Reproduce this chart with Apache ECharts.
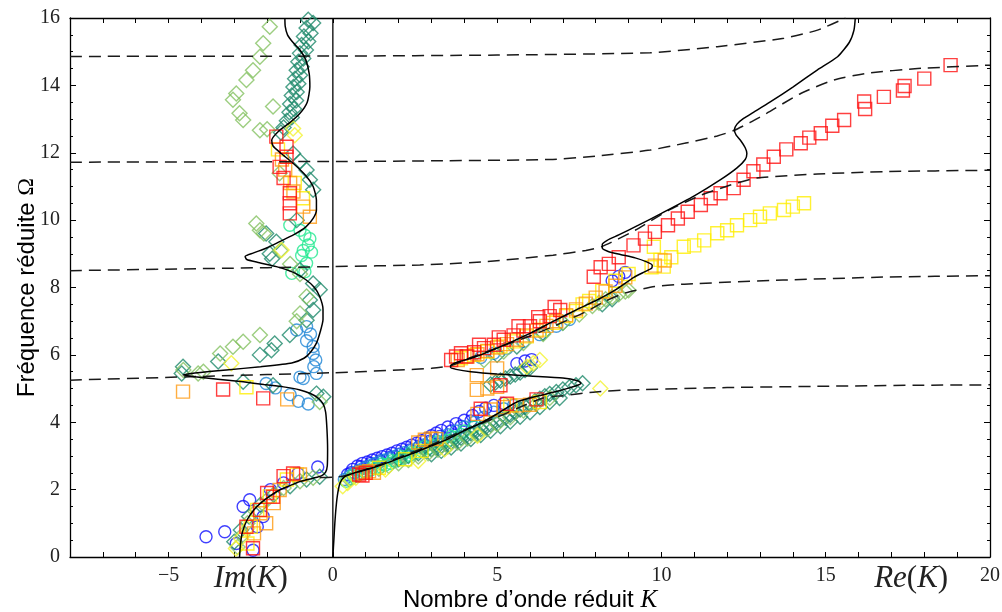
<!DOCTYPE html>
<html><head><meta charset="utf-8">
<script src="https://cdn.jsdelivr.net/npm/echarts@6/dist/echarts.min.js"></script>
<style>html,body{margin:0;padding:0;background:#fff}#c{width:1002px;height:612px}</style>
</head><body><div id="c"></div>
<script>
// ---- axis ticks ----
const xTickLabels = [-5, 0, 5, 10, 15, 20];
const yTickLabels = [0, 2, 4, 6, 8, 10, 12, 14, 16];

// ---- model curves (K, Omega) ----
const solidRe = [[0,0],[0.03,0.5],[0.06,1.0],[0.1,1.5],[0.15,1.9],[0.22,2.2],[0.35,2.38],[0.6,2.48],[0.9,2.56],[1.5,2.74],[2,2.92],[2.5,3.1],[3,3.3],[3.5,3.5],[4,3.75],[4.5,3.97],[5,4.25],[5.6,4.6],[6.2,4.77],[6.8,4.91],[7.2,5.02],[7.45,5.1],[7.55,5.16],[7.45,5.23],[7.0,5.31],[6.0,5.37],[5.0,5.43],[4.2,5.5],[3.75,5.57],[3.58,5.63],[3.6,5.7],[3.8,5.79],[4.28,5.92],[5.0,6.2],[6.0,6.64],[6.72,7.0],[7.5,7.38],[8.04,7.63],[8.6,7.93],[9.16,8.3],[9.5,8.47],[9.7,8.57],[9.72,8.66],[9.55,8.76],[9.2,8.88],[8.75,8.98],[8.38,9.07],[8.2,9.17],[8.2,9.28],[8.35,9.4],[8.7,9.56],[9.3,9.85],[10,10.2],[11,10.72],[11.8,11.2],[12.3,11.55],[12.55,11.8],[12.6,11.98],[12.55,12.15],[12.42,12.35],[12.27,12.53],[12.22,12.68],[12.3,12.85],[12.5,13.02],[12.8,13.2],[13.3,13.5],[14,13.95],[14.75,14.46],[15.36,14.85],[15.72,15.28],[15.86,15.64],[15.9,16.0]];
const solidIm = [[-2.84,0],[-2.81,0.4],[-2.75,0.75],[-2.6,1.12],[-2.4,1.4],[-2.2,1.6],[-1.9,1.82],[-1.62,1.99],[-1.3,2.12],[-1.0,2.24],[-0.6,2.34],[-0.35,2.41],[-0.22,2.52],[-0.17,2.7],[-0.16,3.2],[-0.18,3.8],[-0.22,4.3],[-0.3,4.55],[-0.45,4.72],[-0.7,4.86],[-1.0,4.96],[-1.5,5.05],[-2.1,5.12],[-2.73,5.2],[-3.5,5.28],[-4.2,5.35],[-4.56,5.4],[-4.2,5.46],[-3.24,5.55],[-2.2,5.65],[-1.25,5.76],[-0.88,5.9],[-0.68,6.08],[-0.5,6.35],[-0.38,6.7],[-0.3,7.05],[-0.3,7.35],[-0.4,7.73],[-0.56,8.0],[-0.82,8.23],[-1.2,8.45],[-1.72,8.62],[-2.3,8.75],[-2.62,8.83],[-2.67,8.92],[-2.43,9.02],[-2.0,9.18],[-1.62,9.36],[-1.2,9.56],[-0.82,9.8],[-0.6,10.05],[-0.5,10.3],[-0.5,10.6],[-0.6,11.0],[-0.82,11.32],[-1.21,11.69],[-1.6,12.0],[-1.82,12.2],[-1.86,12.38],[-1.62,12.67],[-1.3,12.9],[-1.0,13.17],[-0.78,13.5],[-0.7,13.96],[-0.72,14.35],[-0.82,14.75],[-1.0,15.05],[-1.21,15.27],[-1.38,15.5],[-1.45,15.75],[-1.46,16]];
const dashA = [[-0.4,2.36],[0,2.37],[0.3,2.4],[1,2.6],[2,2.95],[3,3.33],[4,3.77],[5,4.15],[5.6,4.41],[6.4,4.72],[7.0,4.79],[8.0,4.9],[9.05,4.96],[12,5.03],[15,5.07],[18,5.1],[20,5.11]];
const dashB = [[-8,5.25],[-4,5.36],[0,5.47],[2,5.55],[3.0,5.6],[3.6,5.68],[4.2,5.92],[5.2,6.28],[6.0,6.56],[6.7,6.84],[7.7,7.28],[8.3,7.6],[8.9,7.84],[9.8,8.03],[10.7,8.1],[13.7,8.22],[16.8,8.31],[20,8.35]];
const dashC = [[-8,8.5],[-4,8.56],[0,8.62],[2.65,8.67],[4.7,8.77],[6.7,8.96],[7.7,9.1],[8.2,9.22],[9.2,9.7],[10.2,10.28],[11.2,10.74],[12.1,11.04],[12.9,11.25],[14.75,11.37],[16.8,11.44],[20,11.48]];
const dashD = [[-8,11.72],[0,11.74],[3,11.76],[6.6,11.8],[8,11.9],[9.66,12.08],[10.7,12.28],[11.7,12.5],[12.2,12.66],[12.7,12.9],[13.2,13.17],[14.24,13.76],[15.25,14.16],[16.27,14.36],[17.8,14.5],[20,14.6]];
const dashE = [[-8,14.86],[0,14.87],[5,14.9],[9.66,14.97],[11.7,15.15],[13.73,15.4],[14.75,15.64],[15.6,16.0]];
const zeroLine = [[0,0],[0,16]];

// ---- measurements (K, Omega) : Re part at K>0, Im part plotted at K<0 ----
const blueRe = [[0.45,2.45],[0.6,2.6],[0.75,2.7],[0.9,2.78],[1.05,2.82],[1.2,2.88],[1.35,2.93],[1.5,2.98],[1.65,3.03],[1.8,3.08],[1.95,3.15],[2.1,3.2],[2.25,3.26],[2.4,3.32],[2.55,3.38],[2.7,3.45],[2.85,3.52],[3.0,3.6],[3.15,3.68],[3.3,3.76],[3.5,3.86],[3.75,3.96],[4.0,4.06],[4.25,4.2],[4.45,4.32],[4.65,4.42],[4.9,4.5],[5.2,4.56],[5.6,5.74],[5.85,5.82],[6.05,5.86],[8.5,8.2],[8.7,8.33],[8.9,8.45],[0.55,2.5],[0.85,2.68],[1.15,2.78],[1.45,2.86],[1.75,2.96],[2.05,3.06],[2.35,3.18],[2.65,3.3],[2.95,3.44],[3.25,3.58],[3.6,3.74],[3.9,3.88],[4.2,4.04]];
const blueIm = [[-3.86,0.6],[-3.29,0.75],[-2.73,1.5],[-2.53,1.7],[-2.43,0.2],[-2.94,0.4],[-2.12,1.2],[-2.3,0.9],[-0.46,2.67],[-1.06,2.48],[-1.9,2.0],[-1.5,2.2]];
const azureRe = [[0.35,2.3],[0.5,2.4],[0.65,2.5],[0.8,2.58],[0.95,2.64],[1.1,2.7],[1.25,2.76],[1.4,2.82],[1.55,2.87],[1.7,2.92],[1.85,2.98],[2.0,3.04],[2.2,3.1],[2.4,3.17],[2.6,3.25],[2.8,3.33],[3.0,3.42],[3.25,3.52],[3.5,3.63],[3.75,3.74],[4.0,3.86],[4.3,4.0],[4.6,4.15],[4.9,4.3],[5.2,4.4],[5.5,4.5],[4.5,5.92],[4.9,6.05],[5.3,6.2],[5.8,6.4],[6.3,6.6],[6.8,6.85],[7.2,7.05]];
const azureIm = [[-1.1,6.74],[-0.8,6.84],[-0.68,6.62],[-0.8,6.42],[-0.6,6.25],[-0.6,6.04],[-0.52,5.85],[-0.58,5.65],[-0.5,5.45],[-0.9,5.3],[-2.03,5.15],[-1.75,5.02],[-1.3,4.82],[-1.0,5.34],[-0.75,4.54],[-1.05,4.62]];
const greenRe = [[0.4,2.25],[0.55,2.32],[0.7,2.4],[0.85,2.47],[1.0,2.53],[1.15,2.58],[1.3,2.63],[1.45,2.68],[1.6,2.73],[1.75,2.78],[1.9,2.84],[2.05,2.9],[2.2,2.96],[2.35,3.02],[2.5,3.08],[2.7,3.15],[2.9,3.22],[3.1,3.3],[3.3,3.38],[3.5,3.46],[3.7,3.55],[3.9,3.64],[0.6,2.42],[0.9,2.55],[1.2,2.66],[1.5,2.76],[1.8,2.86],[2.1,2.98],[2.4,3.1],[2.8,3.28],[3.2,3.42],[3.6,3.58],[4.0,3.74],[4.3,3.86]];
const greenIm = [[-1.31,9.85],[-1.0,9.7],[-0.75,9.26],[-0.9,9.1],[-0.95,8.95],[-0.8,8.72],[-0.85,8.47],[-1.25,8.42],[-0.7,9.45],[-0.85,9.55],[-0.65,9.05]];
const tealRe = [[2.0,2.9],[2.3,3.0],[2.6,3.08],[2.85,3.15],[3.0,3.2],[3.15,3.25],[3.3,3.3],[3.45,3.36],[3.6,3.42],[3.75,3.48],[3.9,3.54],[4.05,3.6],[4.2,3.67],[4.35,3.73],[4.5,3.8],[4.65,3.86],[4.8,3.93],[4.95,4.0],[5.1,4.07],[5.25,4.14],[5.4,4.22],[5.55,4.3],[5.7,4.38],[5.85,4.46],[6.0,4.54],[6.15,4.62],[6.3,4.7],[6.45,4.77],[6.6,4.84],[6.8,4.9],[7.0,4.97],[7.2,5.04],[7.4,5.1],[7.6,5.16],[4.8,5.12],[4.95,5.18],[5.1,5.24],[5.25,5.3],[5.4,5.36],[5.55,5.42],[5.7,5.48],[5.85,5.55],[6.0,5.62],[5.0,6.0],[5.6,6.25],[6.4,6.65],[7.0,6.95],[8.2,7.5],[8.5,7.65],[3.0,3.05],[3.3,3.15],[3.6,3.25],[3.9,3.37],[4.2,3.5],[4.5,3.62],[4.8,3.75],[5.1,3.88],[5.4,4.02],[5.7,4.16],[6.0,4.3],[6.3,4.45],[6.6,4.6],[6.9,4.72]];
const tealIm = [[-0.75,15.95],[-0.8,15.7],[-0.88,15.45],[-0.95,15.2],[-1.0,14.95],[-1.05,14.7],[-1.1,14.45],[-1.15,14.2],[-1.2,13.95],[-1.25,13.7],[-1.3,13.45],[-1.32,13.2],[-1.4,12.95],[-1.5,12.75],[-1.58,12.6],[-0.6,15.85],[-0.68,15.55],[-0.75,15.3],[-0.82,15.05],[-0.9,14.8],[-0.95,14.55],[-1.0,14.3],[-1.05,14.05],[-1.1,13.8],[-1.12,13.55],[-1.18,13.3],[-1.25,13.05],[-1.21,11.98],[-1.0,11.75],[-0.8,11.49],[-0.7,11.2],[-0.6,10.9],[-1.1,10.0],[-2.03,9.6],[-1.72,9.36],[-1.92,9.0],[-1.85,8.85],[-1.0,8.52],[-0.6,8.12],[-0.4,7.93],[-0.7,7.63],[-0.6,7.33],[-0.8,7.03],[-1.31,6.59],[-1.77,6.34],[-1.87,6.14],[-2.22,6.0],[-3.49,5.8],[-4.56,5.65],[-4.6,5.45],[-2.73,5.2],[-1.82,5.1],[-0.29,4.76],[-0.5,4.85],[-3.0,0.45],[-2.8,0.8],[-2.55,1.2],[-2.2,1.55],[-1.8,1.85],[-1.3,2.1],[-0.8,2.3],[-0.4,2.38]];
const lgreenRe = [[0.5,2.3],[0.8,2.45],[1.1,2.55],[1.4,2.62],[1.7,2.7],[2.0,2.78],[2.3,2.88],[2.6,2.98],[2.9,3.08],[3.2,3.18],[3.5,3.28],[3.8,3.4],[4.1,3.52],[4.4,3.64],[4.7,3.8],[5.0,3.95],[5.4,4.15],[5.8,4.35],[6.2,4.55],[6.6,4.72],[4.6,5.85],[5.2,6.1],[5.8,6.35],[6.4,6.62],[7.0,6.95],[7.5,7.2],[7.9,7.45],[8.1,7.55],[8.3,7.65],[8.5,7.72],[8.7,7.8],[8.9,7.88],[9.0,7.92]];
const lgreenIm = [[-1.92,15.74],[-2.12,15.25],[-2.22,14.85],[-2.43,14.45],[-2.63,14.16],[-2.94,13.76],[-3.04,13.57],[-2.84,13.17],[-2.73,12.97],[-2.22,12.67],[-2.0,12.7],[-1.82,13.37],[-1.62,11.39],[-2.33,9.9],[-2.22,9.7],[-2.1,9.6],[-1.6,9.1],[-1.3,8.7],[-1.0,8.4],[-0.8,7.73],[-1.0,7.23],[-1.1,7.0],[-2.22,6.59],[-2.73,6.39],[-3.04,6.24],[-3.43,6.04],[-3.94,5.5],[-4.1,5.45],[-4.55,5.55],[-0.4,4.6],[-2.9,0.3],[-2.75,0.65],[-2.6,1.0],[-2.35,1.35],[-2.0,1.7],[-1.5,2.05],[-1.0,2.25],[-0.6,2.35]];
const ydiaRe = [[0.3,2.1],[0.45,2.2],[0.7,2.35],[1.6,2.6],[2.6,2.85],[3.4,3.2],[4.4,3.6],[8.14,5.0],[6.3,5.85],[6.1,5.75],[5.9,5.65]];
const ydiaIm = [[-1.21,12.72],[-1.16,12.52],[-1.56,9.11],[-3.09,5.75],[-2.95,0.25],[-2.8,0.55],[-2.6,0.85]];
const ysqRe = [[1.4,2.65],[2.2,2.9],[2.7,3.15],[5.4,4.5],[6.3,4.6],[3.9,5.9],[4.3,6.0],[4.7,6.1],[5.1,6.25],[5.5,6.4],[5.9,6.55],[6.3,6.75],[6.7,6.95],[7.1,7.15],[7.4,7.3],[7.6,7.5],[7.8,7.6],[8.2,7.9],[8.6,8.2],[9.0,8.4],[9.7,8.6],[9.97,8.82],[10.07,8.62],[10.3,8.9],[10.68,9.21],[9.77,9.21],[11.0,9.25],[11.3,9.4],[11.7,9.61],[12.0,9.7],[12.3,9.85],[12.7,10.0],[13.0,10.1],[13.3,10.2],[13.73,10.3],[14.0,10.4],[14.34,10.5]];
const ysqIm = [[-2.63,5.04],[-1.67,12.1],[-1.16,11.1],[-0.91,10.65],[-2.5,0.9],[-1.92,1.8],[-1.4,2.3],[-1.1,2.45],[-2.3,1.4],[-2.6,0.4]];
const orangeRe = [[0.9,2.5],[1.1,2.55],[1.25,2.5],[2.6,3.4],[2.8,3.48],[3.0,3.52],[3.15,3.5],[4.4,4.25],[4.8,4.38],[5.2,4.45],[5.6,4.5],[6.0,4.52],[4.38,4.96],[4.7,5.0],[5.0,5.05],[4.38,5.4],[5.0,5.6],[3.8,5.85],[4.1,5.95],[4.4,6.02],[4.7,6.12],[5.0,6.22],[5.3,6.32],[5.6,6.45],[5.9,6.58],[6.2,6.72],[6.5,6.86],[6.8,7.0],[7.1,7.18],[7.4,7.35],[7.7,7.52],[8.0,7.7],[8.3,7.88],[8.6,8.05],[8.9,8.3],[9.8,8.65],[10.1,8.8]];
const orangeIm = [[-4.56,4.91],[-1.39,4.68],[-0.7,10.1],[-0.9,10.4],[-1.55,11.8],[-1.45,11.5],[-1.3,11.1],[-1.2,10.85],[-2.03,1.0],[-1.62,1.99],[-1.0,2.45],[-2.2,1.3],[-1.8,1.6],[-2.4,0.7]];
const redRe = [[0.8,2.45],[1.0,2.5],[0.9,2.42],[4.5,4.4],[5.3,4.55],[6.2,4.68],[5.1,5.1],[3.6,5.85],[3.75,5.95],[4.07,5.95],[3.9,6.05],[4.3,6.08],[4.45,6.3],[4.6,6.2],[4.9,6.3],[5.05,6.52],[5.2,6.45],[5.5,6.58],[5.65,6.85],[5.8,6.72],[6.0,6.85],[6.25,7.12],[6.3,7.0],[6.6,7.15],[6.75,7.42],[6.92,7.33],[7.94,8.32],[8.15,8.6],[8.4,8.7],[8.7,8.9],[9.15,9.25],[9.5,9.45],[9.8,9.65],[10.2,9.85],[10.5,10.05],[10.8,10.25],[11.2,10.45],[11.5,10.65],[11.8,10.8],[12.2,10.95],[12.5,11.2],[12.8,11.45],[13.1,11.65],[13.42,11.88],[13.8,12.1],[14.24,12.28],[14.5,12.45],[14.85,12.58],[15.2,12.8],[15.56,12.97],[16.17,13.52],[16.2,13.3],[16.77,13.66],[17.4,13.98],[17.35,13.85],[18.0,14.2],[18.8,14.6]];
const redIm = [[-1.72,12.48],[-1.41,12.18],[-1.41,11.88],[-1.62,11.58],[-1.5,11.25],[-1.31,10.8],[-1.31,10.5],[-1.31,10.2],[-3.34,4.97],[-2.12,4.71],[-2.63,0.9],[-2.22,1.4],[-1.82,1.79],[-1.21,2.48],[-2.43,0.26],[-1.5,2.4],[-2.0,1.9]];

const chart = echarts.init(document.getElementById('c'));
const SERIF = '"Liberation Serif", "DejaVu Serif", serif';
const SANS = '"Liberation Sans", Arial, sans-serif';

function scatter(name, re, im, symbol, size, color) {
  return {
    name, type: 'scatter', data: re.concat(im), symbol, symbolSize: size,
    itemStyle: { color: 'rgba(0,0,0,0)', borderColor: color, borderWidth: 1.4, opacity: 0.8 },
    emphasis: { disabled: true }, z: 3
  };
}
function line(data, dashed) {
  return {
    type: 'line', data, showSymbol: false, symbol: 'none', smooth: 0.2, z: 5,
    lineStyle: { color: dashed ? '#1a1a1a' : '#000', width: 1.5, type: dashed ? [12, 7] : 'solid' },
    emphasis: { disabled: true }, silent: true
  };
}
const fmt = v => xTickLabels.includes(v) ? (v < 0 ? '\u2212' + (-v) : String(v)) : '';
const axisCommon = { axisLine: { onZero: false, lineStyle: { color: '#000', width: 1.3 } }, splitLine: { show: false }, nameMoveOverlap: false };

chart.setOption({
  animation: false,
  backgroundColor: '#fff',
  grid: { left: 70, right: 12, top: 18, bottom: 55, containLabel: false, outerBoundsMode: 'none' },
  xAxis: [
    Object.assign({ type: 'value', min: -8, max: 20, interval: 1, position: 'bottom',
      axisTick: { inside: true, length: 5, lineStyle: { color: '#000' } },
      axisLabel: { formatter: fmt, fontFamily: SERIF, fontSize: 20, color: '#222', margin: 9 },
      name: '{a|Nombre d\u2019onde r\u00e9duit }{b|K}', nameLocation: 'middle', nameGap: 31,
      nameTextStyle: { rich: { a: { fontFamily: SANS, fontSize: 24, color: '#000' }, b: { fontFamily: SERIF, fontStyle: 'italic', fontSize: 25, color: '#000' } } }
    }, axisCommon),
    Object.assign({ type: 'value', min: -8, max: 20, interval: 1, position: 'top',
      axisTick: { inside: true, length: 5, lineStyle: { color: '#000' } }, axisLabel: { show: false } }, axisCommon)
  ],
  yAxis: [
    Object.assign({ type: 'value', min: 0, max: 16, interval: 2, position: 'left',
      axisTick: { inside: true, length: 6, lineStyle: { color: '#000' } },
      minorTick: { show: true, splitNumber: 4, length: 3, lineStyle: { color: '#000' } },
      axisLabel: { formatter: v => yTickLabels.includes(v) ? String(v) : '', fontFamily: SERIF, fontSize: 20, color: '#222', margin: 10 },
      name: '{a|Fr\u00e9quence r\u00e9duite }{b|\u03a9}', nameLocation: 'middle', nameGap: 31, nameRotate: 90,
      nameTextStyle: { rich: { a: { fontFamily: SANS, fontSize: 24, color: '#000' }, b: { fontFamily: SERIF, fontSize: 24, color: '#000' } } }
    }, axisCommon),
    Object.assign({ type: 'value', min: 0, max: 16, interval: 2, position: 'right',
      axisTick: { inside: true, length: 6, lineStyle: { color: '#000' } },
      minorTick: { show: true, splitNumber: 4, length: 3, lineStyle: { color: '#000' } },
      axisLabel: { show: false } }, axisCommon)
  ],
  series: [
    scatter('blue', blueRe, blueIm, 'circle', 12, '#1010ff'),
    scatter('azure', azureRe, azureIm, 'circle', 12, '#1f86d6'),
    scatter('green', greenRe, greenIm, 'circle', 12, '#22e890'),
    scatter('teal', tealRe, tealIm, 'diamond', 15, '#1f8a6c'),
    scatter('lgreen', lgreenRe, lgreenIm, 'diamond', 15, '#84c262'),
    scatter('ydia', ydiaRe, ydiaIm, 'diamond', 15, '#f2f230'),
    scatter('ysq', ysqRe, ysqIm, 'rect', 13, '#ffee00'),
    scatter('orange', orangeRe, orangeIm, 'rect', 13, '#ff9a10'),
    scatter('red', redRe, redIm, 'rect', 13, '#ff1010'),
    Object.assign(line(zeroLine, false), { smooth: false, lineStyle: { color: '#000', width: 1.3 } }),
    line(dashA, true), line(dashB, true), line(dashC, true), line(dashD, true), line(dashE, true),
    line(solidRe, false), line(solidIm, false)
  ]
});

const yLab = chart.convertToPixel({ xAxisIndex: 0, yAxisIndex: 0 }, [0, 0])[1] + 22;
const imX = chart.convertToPixel({ xAxisIndex: 0, yAxisIndex: 0 }, [-2.5, 0])[0];
const reX = chart.convertToPixel({ xAxisIndex: 0, yAxisIndex: 0 }, [17.6, 0])[0];
const mathRich = { i: { fontFamily: SERIF, fontStyle: 'italic', fontSize: 31, fill: '#222' }, p: { fontFamily: SERIF, fontSize: 31, fill: '#222' } };
chart.setOption({
  graphic: [
    { type: 'text', x: imX, y: yLab, style: { text: '{i|Im}{p|(}{i|K}{p|)}', rich: mathRich, align: 'center', verticalAlign: 'middle' } },
    { type: 'text', x: reX, y: yLab, style: { text: '{i|Re}{p|(}{i|K}{p|)}', rich: mathRich, align: 'center', verticalAlign: 'middle' } }
  ]
});
</script></body></html>
